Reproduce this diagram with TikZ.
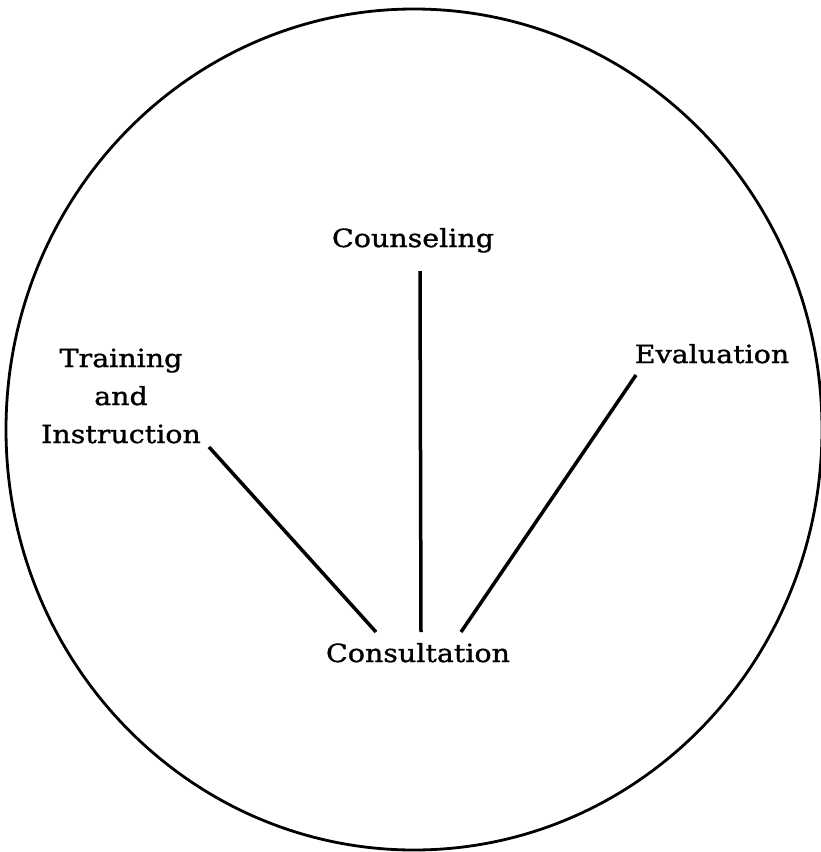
\documentclass[tikz,border=0pt]{standalone}
\usepackage{fontspec}
\setmainfont{DejaVu Serif}[FakeStretch=1.14,FakeBold=1.2]
\begin{document}
\begin{tikzpicture}[x=1pt,y=-1pt,
  lbl/.style={inner sep=0pt, font=\fontsize{25}{38}\selectfont},
  spoke/.style={line width=3.5pt},
  rim/.style={line width=2.8pt}]
\useasboundingbox (0,0) rectangle (820,852);
\draw[rim] (414,429.5) ellipse [x radius=408, y radius=420.5];
\node[lbl, anchor=base] (couns) at (413,247) {Counseling};
\node[lbl, anchor=base] (eval) at (712,363) {Evaluation};
\node[lbl, anchor=base] (consult) at (418,662) {Consultation};
\node[lbl, align=center] (train) at (121,396) {Training\\and\\Instruction};
\coordinate (tA) at (209,447);
\coordinate (tB) at (376,632);
\coordinate (cA) at (420,271);
\coordinate (cB) at (421,632);
\coordinate (eA) at (636,375);
\coordinate (eB) at (461,632);
\draw[spoke] (tA) -- (tB);
\draw[spoke] (cA) -- (cB);
\draw[spoke] (eA) -- (eB);
\end{tikzpicture}
\end{document}
